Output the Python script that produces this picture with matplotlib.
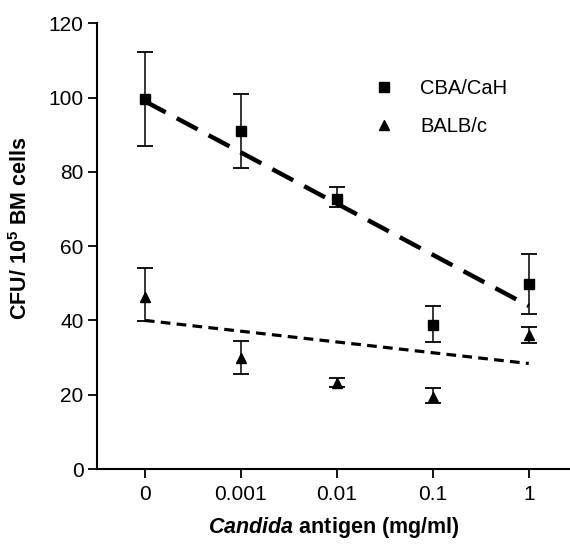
import numpy as np
import matplotlib.pyplot as plt
from matplotlib.lines import Line2D

plt.rcParams['font.family'] = ['Liberation Sans', 'DejaVu Sans']
plt.rcParams['lines.scale_dashes'] = False
plt.rcParams['mathtext.fontset'] = 'custom'
plt.rcParams['mathtext.rm'] = 'Liberation Sans:bold'
plt.rcParams['mathtext.it'] = 'Liberation Sans:italic:bold'

# Candida antigen doses (plotted at equally spaced positions)
doses = ["0", "0.001", "0.01", "0.1", "1"]
xpos = np.arange(len(doses))

# CBA/CaH means and error bar limits
cba_mean = [99.7, 91, 72.8, 38.9, 49.7]
cba_low = [87, 81, 70.6, 34.2, 41.7]
cba_high = [112.3, 101, 75.8, 43.9, 58]

# BALB/c means and error bar limits
balb_mean = [46.4, 29.8, 23.2, 19.5, 36]
balb_low = [39.8, 25.7, 22, 17.7, 34]
balb_high = [54, 34.5, 24.6, 21.7, 38.3]

# fitted trend lines (value at first and last dose)
cba_fit = [99, 43.9]
balb_fit = [40, 28.4]

fig = plt.figure(figsize=(5.7, 5.45), dpi=100)
ax = fig.add_axes([0.170, 0.1394, 0.83, 0.818])

cba_err = [np.subtract(cba_mean, cba_low), np.subtract(cba_high, cba_mean)]
balb_err = [np.subtract(balb_mean, balb_low), np.subtract(balb_high, balb_mean)]

ax.errorbar(xpos, cba_mean, yerr=cba_err, fmt='s', color='black', ms=7,
            elinewidth=1.1, capsize=6, capthick=1.3)
ax.errorbar(xpos, balb_mean, yerr=balb_err, fmt='^', color='black', ms=7,
            elinewidth=1.1, capsize=6, capthick=1.3)

ends = [xpos[0], xpos[-1]]
ax.plot(ends, cba_fit, color='black', lw=3.2, dashes=(17, 9))
ax.plot(ends, balb_fit, color='black', lw=2.3, dashes=(7, 4.5))

ax.set_xlim(-0.5, 4.43)
ax.set_ylim(0, 120)
ax.set_xticks(xpos)
ax.set_xticklabels(doses)
ax.set_yticks(np.arange(0, 121, 20))
ax.tick_params(labelsize=15, width=1.3, length=6.5)
ax.tick_params(axis='x', pad=5)
ax.tick_params(axis='y', pad=3)
ax.spines['right'].set_visible(False)
ax.spines['top'].set_visible(False)
ax.spines['left'].set_linewidth(1.5)
ax.spines['bottom'].set_linewidth(1.5)

ax.set_ylabel('CFU/ 10$^{5}$ BM cells', fontsize=15.5, fontweight='bold')
ax.yaxis.set_label_coords(-0.138, 0.54)
ax.set_xlabel('$\\it{Candida}$ antigen (mg/ml)', fontsize=15.5, fontweight='bold', labelpad=8)

handles = [Line2D([], [], ls='none', marker='s', color='black', ms=7),
           Line2D([], [], ls='none', marker='^', color='black', ms=7)]
ax.legend(handles, ['CBA/CaH', 'BALB/c'], loc='upper left', bbox_to_anchor=(0.547, 0.916),
          frameon=False, fontsize=14.5, handlelength=1.0, handletextpad=1.3, labelspacing=0.95)

fig.savefig('out.png', dpi=100)
